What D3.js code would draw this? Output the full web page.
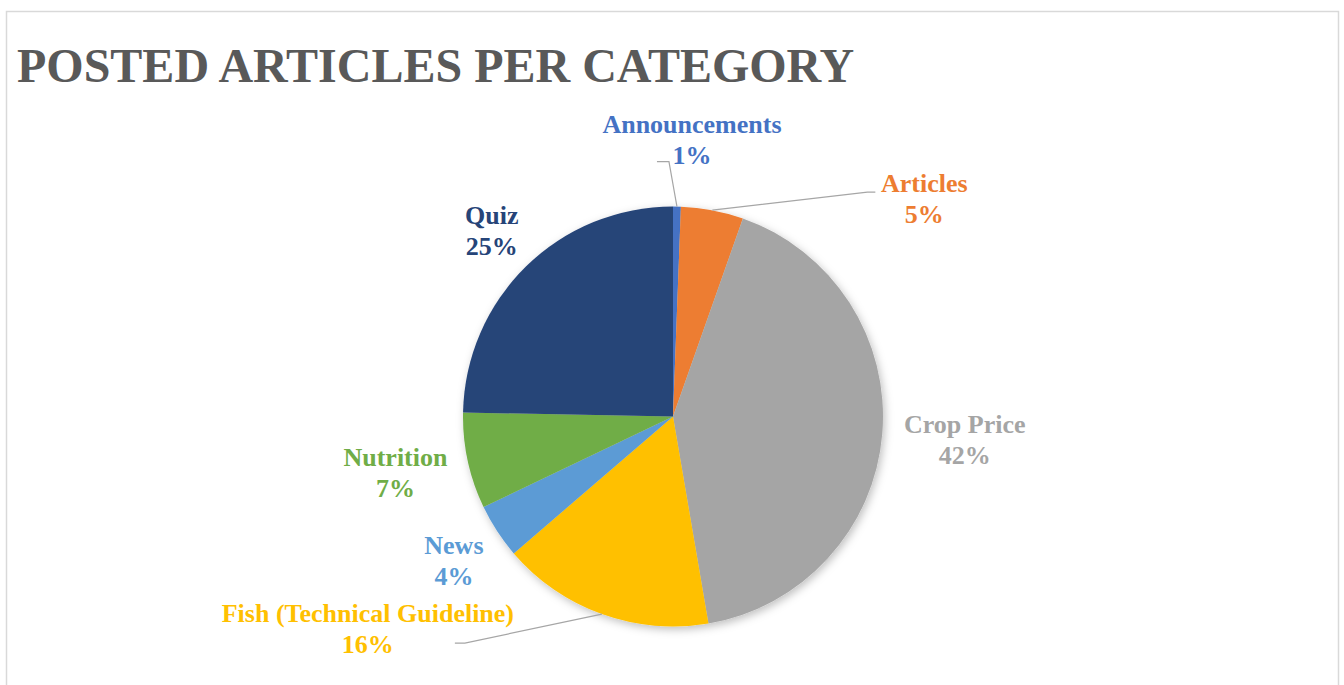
<!DOCTYPE html>
<html>
<head>
<meta charset="utf-8">
<script src="https://cdn.jsdelivr.net/npm/d3@7"></script>
<style>
  html, body { margin: 0; padding: 0; background: #fff; }
  svg { display: block; }
</style>
</head>
<body>
<div id="chart"></div>
<script>
// Data (% of posted articles)
const categories = ['Announcements', 'Articles', 'Crop Price', 'Fish (Technical Guideline)', 'News', 'Nutrition', 'Quiz'];
const shares = [0.6, 4.8, 41.9, 16.4, 4.2, 7.4, 24.7];
const colors = ['#4472C4', '#ED7D31', '#A5A5A5', '#FFC000', '#5B9BD5', '#70AD47', '#264478'];

// Labels dragged away from the pie in the original, with leader lines
const movedLabels = {
    'Announcements': { dx: 15, dy: -68, elbow: [-23, 23], stub: [-35, 23] },
    'Articles': { dx: 212, dy: -12, elbow: [-57, -6], stub: [-49, -6] },
    'Fish (Technical Guideline)': { dx: -234, dy: 14, elbow: [97, 15], stub: [87, 15] }
};

const width = 1344;
const height = 685;
const cx = 673;
const cy = 416.5;
const radius = 210;

const svg = d3.select('#chart')
    .append('svg')
    .attr('width', width)
    .attr('height', height);

// Soft shadow under the pie
const defs = svg.append('defs');
const shadow = defs.append('filter')
    .attr('id', 'shadow')
    .attr('x', '-20%').attr('y', '-20%')
    .attr('width', '140%').attr('height', '140%');
shadow.append('feDropShadow')
    .attr('dx', 2)
    .attr('dy', 3)
    .attr('stdDeviation', 4)
    .attr('flood-color', '#000')
    .attr('flood-opacity', 0.25);

// Chart frame (bottom edge is cut off by the picture)
svg.append('path')
    .attr('d', `M6.5,${height + 2}V11.5H1338.5V${height + 2}`)
    .attr('fill', 'none')
    .attr('stroke', '#D9D9D9')
    .attr('stroke-width', 1.5);

// Title
svg.append('text')
    .attr('x', 17)
    .attr('y', 82)
    .attr('font-family', '"Liberation Serif", "Times New Roman", serif')
    .attr('font-weight', 'bold')
    .attr('font-size', '48px')
    .attr('fill', '#595959')
    .text('POSTED ARTICLES PER CATEGORY');

const data = categories.map((name, i) => ({ name, value: shares[i], color: colors[i] }));
const total = d3.sum(shares);

const pie = d3.pie()
    .sort(null)
    .value(d => d.value);

const arc = d3.arc()
    .innerRadius(0)
    .outerRadius(radius);

const arcs = pie(data);

const g = svg.append('g')
    .attr('transform', `translate(${cx},${cy})`);

g.append('g')
    .attr('filter', 'url(#shadow)')
    .selectAll('path')
    .data(arcs)
    .join('path')
    .attr('d', arc)
    .attr('fill', d => d.data.color);

// Data labels
const labelFont = '"Liberation Serif", "Times New Roman", serif';
const gap = 22;
const blockHeight = 60;

const leaders = g.append('g').attr('class', 'leaders');
const labels = g.append('g').attr('class', 'labels');

arcs.forEach(a => {
    const mid = (a.startAngle + a.endAngle) / 2;
    const dir = [Math.sin(mid), -Math.cos(mid)];
    const edge = [dir[0] * radius, dir[1] * radius];
    const pct = Math.round(a.data.value / total * 100) + '%';

    const lab = labels.append('g');
    const t1 = lab.append('text')
        .attr('text-anchor', 'middle')
        .attr('y', -6)
        .text(a.data.name);
    const t2 = lab.append('text')
        .attr('text-anchor', 'middle')
        .attr('y', 25)
        .text(pct);
    lab.selectAll('text')
        .attr('font-family', labelFont)
        .attr('font-weight', 'bold')
        .attr('font-size', '26px')
        .attr('fill', a.data.color);

    const w = Math.max(t1.node().getComputedTextLength(), t2.node().getComputedTextLength());
    let pos;
    const moved = movedLabels[a.data.name];
    if (moved) {
        pos = [edge[0] + moved.dx, edge[1] + moved.dy];
        leaders.append('polyline')
            .attr('points', [
                edge,
                [pos[0] + moved.elbow[0], pos[1] + moved.elbow[1]],
                [pos[0] + moved.stub[0], pos[1] + moved.stub[1]]
            ].map(p => p.join(',')).join(' '))
            .attr('fill', 'none')
            .attr('stroke', '#A6A6A6')
            .attr('stroke-width', 1.2);
    } else {
        // best-fit outside: push the label box just off the rim
        pos = [
            edge[0] + dir[0] * gap + dir[0] * w / 2,
            edge[1] + dir[1] * gap + dir[1] * blockHeight / 2
        ];
    }
    lab.attr('transform', `translate(${pos[0]},${pos[1]})`);
});
</script>
</body>
</html>
